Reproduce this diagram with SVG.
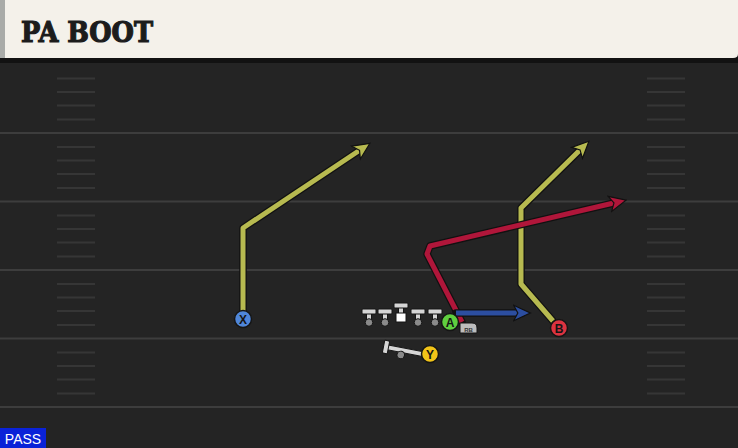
<svg xmlns="http://www.w3.org/2000/svg" width="738" height="448" viewBox="0 0 738 448">
<style>
.yard{stroke:#3d3d3d;stroke-width:2;fill:none}
.hash{stroke:#363636;stroke-width:2;fill:none}
.under{fill:none;stroke:#111;stroke-width:7.5;stroke-linejoin:round;stroke-linecap:round}
.route{fill:none;stroke-width:5;stroke-linejoin:round;stroke-linecap:butt}
.ylw{stroke:#b7ba50}
.red{stroke:#b0163a}
.blu{stroke:#2c4ea0}
.pl{stroke:#151515;stroke-width:1.5}
.lbl{font-family:"Liberation Sans",Arial,sans-serif;font-weight:bold;font-size:12px;fill:#151515;text-anchor:middle}
.ol{fill:#d6d6d6;stroke:#151515;stroke-width:1}
</style>
<defs>
<marker id="ay" markerUnits="userSpaceOnUse" viewBox="0 0 16 16" markerWidth="19" markerHeight="19" refX="8" refY="8" orient="auto">
<path d="M1,1.5 L15,8 L1,14.5 L4.5,8 Z" fill="#b7ba50" stroke="#111" stroke-width="1"/>
</marker>
<marker id="ar" markerUnits="userSpaceOnUse" viewBox="0 0 16 16" markerWidth="19" markerHeight="19" refX="8" refY="8" orient="auto">
<path d="M1,1.5 L15,8 L1,14.5 L4.5,8 Z" fill="#b0163a" stroke="#111" stroke-width="1"/>
</marker>
<marker id="ab" markerUnits="userSpaceOnUse" viewBox="0 0 16 16" markerWidth="19" markerHeight="19" refX="8" refY="8" orient="auto">
<path d="M1,1.5 L15,8 L1,14.5 L4.5,8 Z" fill="#2c4ea0" stroke="#111" stroke-width="1"/>
</marker>
<g id="lm">
<rect x="-2.5" y="2" width="5" height="11" class="ol"/>
<rect x="-7" y="0" width="14" height="5" rx="1" class="ol"/>
<circle cx="0" cy="13.5" r="3.8" fill="#8a8a8a" stroke="#151515" stroke-width="1"/>
</g>
</defs>

<rect width="738" height="448" fill="#242424"/>
<g id="field">
<path class="yard" d="M0,133 H738 M0,201.5 H738 M0,270 H738 M0,338.5 H738 M0,407 H738"/>
<path class="hash" d="M57,78.5h38 M57,92h38 M57,105.5h38 M57,119.5h38 M57,147h38 M57,160.5h38 M57,174h38 M57,188h38 M57,215.5h38 M57,229h38 M57,242.5h38 M57,256.5h38 M57,284h38 M57,297.5h38 M57,311h38 M57,325h38 M57,352.5h38 M57,366h38 M57,379.5h38 M57,393.5h38
M647,78.5h38 M647,92h38 M647,105.5h38 M647,119.5h38 M647,147h38 M647,160.5h38 M647,174h38 M647,188h38 M647,215.5h38 M647,229h38 M647,242.5h38 M647,256.5h38 M647,284h38 M647,297.5h38 M647,311h38 M647,325h38 M647,352.5h38 M647,366h38 M647,379.5h38 M647,393.5h38"/>
</g>

<g id="header">
<rect x="0" y="57" width="738" height="6" fill="#121212"/>
<path d="M0,0 H738 V54 Q738,58 733,58 H0 Z" fill="#f4f1ea"/>
<rect x="0" y="0" width="5" height="58" fill="#a9aba8"/>
<text x="21" y="42" font-family="'DejaVu Serif',serif" font-weight="bold" font-size="28" fill="#1c1c1c" stroke="#1c1c1c" stroke-width="1.2" textLength="132" lengthAdjust="spacingAndGlyphs">PA BOOT</text>
</g>

<g id="connectors">
<path class="under" d="M243,312 L243,228 L363,148"/>
<path class="route ylw" d="M243,312 L243,228 L363,148" marker-end="url(#ay)"/>
<path class="under" d="M553,321 L521,284 L521,208 L583,147"/>
<path class="route ylw" d="M553,321 L521,284 L521,208 L583,147" marker-end="url(#ay)"/>
<path class="under" d="M462,322 L427,254 L430,246 L618,202"/>
<path class="route red" d="M462,322 L427,254 L430,246 L618,202" marker-end="url(#ar)"/>
<path class="under" d="M456,313 L522,313"/>
<path class="route blu" d="M456,313 L522,313" marker-end="url(#ab)"/>
</g>

<g id="line">
<use href="#lm" x="369" y="309"/>
<use href="#lm" x="385" y="309"/>
<use href="#lm" x="418" y="309"/>
<use href="#lm" x="435" y="309"/>
<g id="center">
<rect x="398.5" y="305" width="5" height="9" class="ol"/>
<rect x="394" y="303" width="14" height="5" rx="1" class="ol"/>
<rect x="396" y="313" width="10" height="9" fill="#ffffff" stroke="#151515" stroke-width="1"/>
</g>
</g>

<g id="y-block" transform="rotate(11 386 347)">
<rect x="386" y="344.5" width="38" height="5" class="ol"/>
<rect x="383.5" y="340.5" width="5" height="13" rx="1" class="ol"/>
<circle cx="402" cy="352" r="3.8" fill="#8a8a8a" stroke="#151515" stroke-width="1"/>
</g>

<g id="X">
<circle cx="243" cy="319" r="8.5" fill="#4f86d9" class="pl"/>
<text x="243" y="323.5" class="lbl">X</text>
</g>
<g id="A">
<path d="M460,323 H472 Q477,323 477,328 V333 H460 Z" fill="#bdbdbd" stroke="#151515" stroke-width="1"/>
<text x="468.5" y="331.5" font-family="'Liberation Sans',Arial,sans-serif" font-weight="bold" font-size="6" fill="#333" text-anchor="middle">RB</text>
<circle cx="450" cy="322" r="8.5" fill="#5fcf3f" class="pl"/>
<text x="450" y="326.5" class="lbl">A</text>
</g>
<g id="B">
<circle cx="559" cy="328" r="8.5" fill="#dc3340" class="pl"/>
<text x="559" y="332.5" class="lbl">B</text>
</g>
<g id="Y">
<circle cx="430" cy="354" r="8.5" fill="#f2c418" class="pl"/>
<text x="430" y="358.5" class="lbl">Y</text>
</g>

<g id="pass">
<rect x="0" y="428" width="46" height="20" fill="#0a22d8"/>
<text x="23" y="443.5" font-family="'Liberation Sans',Arial,sans-serif" font-size="14" fill="#ffffff" text-anchor="middle">PASS</text>
</g>
</svg>
